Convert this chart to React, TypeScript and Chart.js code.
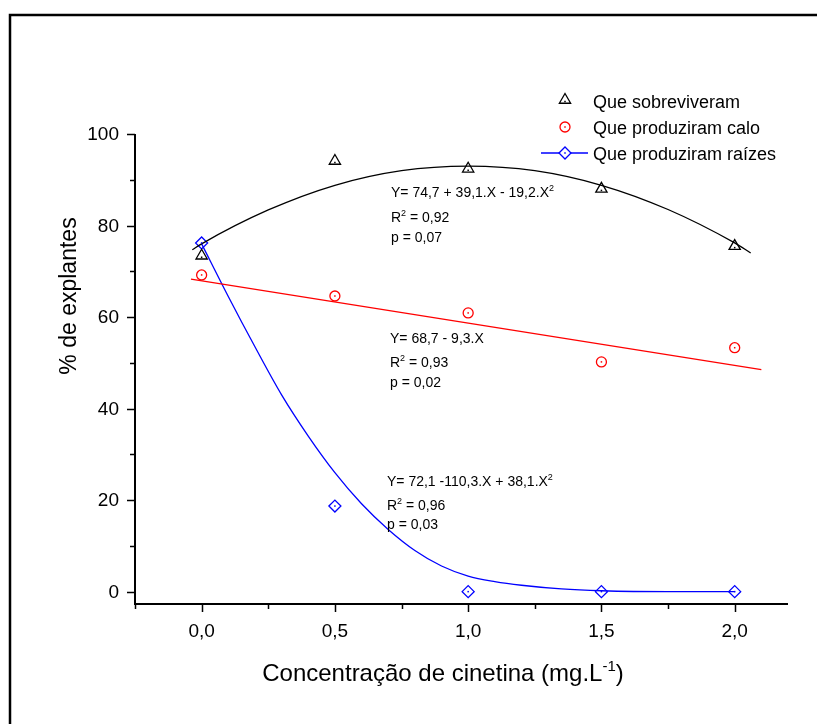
import React, { useEffect, useRef } from "react";
import { Chart, registerables } from "chart.js";

Chart.register(...registerables);

// ---------------- data ----------------
const concX = [0, 0.5, 1.0, 1.5, 2.0];
const sobreviveramY = [73.4, 94.1, 92.4, 88.0, 75.5];
const caloY = [69.2, 64.6, 60.9, 50.2, 53.3];
const raizesY = [76.2, 18.7, 0, 0, 0];

// fitted curves
const sobrevFitX = [-0.035, 0, 0.25, 0.5, 0.75, 1.0, 1.25, 1.5, 1.75, 2.0, 2.06];
const sobrevFitY = [74.7, 76.0, 83.4, 88.8, 92.0, 93.0, 92.0, 88.8, 83.5, 76.2, 74.0];
const caloFitX = [-0.04, 2.1];
const caloFitY = [68.3, 48.5];
const raizesFitX = [0, 0.1, 0.2, 0.3, 0.4, 0.5, 0.6, 0.7, 0.8, 0.9, 1.0, 1.1, 1.2, 1.35, 1.5, 1.75, 2.0];
const raizesFitY = [76.0, 64.5, 53.5, 43.0, 34.0, 26.0, 19.2, 13.6, 9.0, 5.6, 3.4, 2.2, 1.4, 0.6, 0.2, 0, 0];

const xMajorTicks = [0, 0.5, 1.0, 1.5, 2.0];
const xTickLabels = ["0,0", "0,5", "1,0", "1,5", "2,0"];
const xMinorTicks = [-0.25, 0.25, 0.75, 1.25, 1.75];
const yMajorTicks = [0, 20, 40, 60, 80, 100];
const yTickLabels = ["0", "20", "40", "60", "80", "100"];
const yMinorTicks = [10, 30, 50, 70, 90];

const seriesNames = ["Que sobreviveram", "Que produziram calo", "Que produziram raízes"];
const seriesColors = ["#000000", "#ff0000", "#0000ff"];

const eqSobrev = ["Y= 74,7 + 39,1.X - 19,2.X", "R", " = 0,92", "p = 0,07"];
const eqCalo = ["Y= 68,7 - 9,3.X", "R", " = 0,93", "p = 0,02"];
const eqRaizes = ["Y= 72,1 -110,3.X + 38,1.X", "R", " = 0,96", "p = 0,03"];

const xTitle = "Concentração de cinetina (mg.L";
const xTitleSup = "-1";
const yTitle = "% de explantes";

const FONT = '"Liberation Sans", Arial, Helvetica, sans-serif';

type Part = { t: string; sup?: boolean };

function drawRich(ctx: CanvasRenderingContext2D, parts: Part[], x: number, y: number, size: number, align: "left" | "center") {
  const supSize = Math.round(size * 0.62);
  let total = 0;
  const widths: number[] = [];
  for (const p of parts) {
    ctx.font = `${p.sup ? supSize : size}px ${FONT}`;
    const w = ctx.measureText(p.t).width;
    widths.push(w);
    total += w;
  }
  let cx = align === "center" ? x - total / 2 : x;
  ctx.textAlign = "left";
  ctx.textBaseline = "alphabetic";
  parts.forEach((p, i) => {
    ctx.font = `${p.sup ? supSize : size}px ${FONT}`;
    ctx.fillText(p.t, cx, p.sup ? y - size * 0.42 : y);
    cx += widths[i];
  });
}

function drawMarker(ctx: CanvasRenderingContext2D, style: string, x: number, y: number, r: number, color: string) {
  ctx.save();
  ctx.strokeStyle = color;
  ctx.fillStyle = color;
  ctx.lineWidth = 1.3;
  ctx.beginPath();
  if (style === "triangle") {
    let a = 0;
    ctx.moveTo(x + Math.sin(a) * r, y - Math.cos(a) * r);
    a += (2 * Math.PI) / 3;
    ctx.lineTo(x + Math.sin(a) * r, y - Math.cos(a) * r);
    a += (2 * Math.PI) / 3;
    ctx.lineTo(x + Math.sin(a) * r, y - Math.cos(a) * r);
    ctx.closePath();
  } else if (style === "circle") {
    ctx.arc(x, y, r, 0, Math.PI * 2);
  } else {
    ctx.moveTo(x - r, y);
    ctx.lineTo(x, y - r);
    ctx.lineTo(x + r, y);
    ctx.lineTo(x, y + r);
    ctx.closePath();
  }
  ctx.stroke();
  ctx.fillRect(x - 0.75, y - 0.75 + (style === "triangle" ? 1.5 : 0), 1.5, 1.5);
  ctx.restore();
}

const markerStyles = ["triangle", "circle", "rectRot"];
const markerRadius = [6.5, 5, 6];

const overlayPlugin = {
  id: "overlay",
  afterDatasetsDraw(chart: any) {
    const ctx: CanvasRenderingContext2D = chart.ctx;
    // centre dots on markers
    for (let d = 3; d < 6; d++) {
      const meta = chart.getDatasetMeta(d);
      ctx.save();
      ctx.fillStyle = seriesColors[d - 3];
      meta.data.forEach((el: any) => {
        const dy = d === 3 ? 1.5 : 0;
        ctx.fillRect(el.x - 0.75, el.y - 0.75 + dy, 1.5, 1.5);
      });
      ctx.restore();
    }
  },
  afterDraw(chart: any) {
    const ctx: CanvasRenderingContext2D = chart.ctx;
    const xs = chart.scales.x;
    const ys = chart.scales.y;
    const { left, right, top, bottom } = chart.chartArea;
    ctx.save();
    // outer frame
    ctx.strokeStyle = "#000";
    ctx.lineWidth = 2.5;
    ctx.strokeRect(10, 15, 1000, 1000);

    // axes lines
    ctx.lineWidth = 2;
    ctx.beginPath();
    ctx.moveTo(left, top);
    ctx.lineTo(left, bottom);
    ctx.lineTo(right, bottom);
    ctx.stroke();

    // ticks
    ctx.lineWidth = 1.5;
    ctx.beginPath();
    yMajorTicks.forEach((v) => {
      const py = Math.round(ys.getPixelForValue(v)) + 0.5;
      ctx.moveTo(left, py);
      ctx.lineTo(left - 8, py);
    });
    yMinorTicks.forEach((v) => {
      const py = Math.round(ys.getPixelForValue(v)) + 0.5;
      ctx.moveTo(left, py);
      ctx.lineTo(left - 5, py);
    });
    xMajorTicks.forEach((v) => {
      const px = Math.round(xs.getPixelForValue(v)) + 0.5;
      ctx.moveTo(px, bottom);
      ctx.lineTo(px, bottom + 8);
    });
    xMinorTicks.forEach((v) => {
      const px = Math.round(xs.getPixelForValue(v)) + 0.5;
      ctx.moveTo(px, bottom);
      ctx.lineTo(px, bottom + 5);
    });
    ctx.stroke();

    // tick labels
    ctx.fillStyle = "#000";
    ctx.font = `19px ${FONT}`;
    ctx.textAlign = "right";
    ctx.textBaseline = "middle";
    yMajorTicks.forEach((v, i) => {
      ctx.fillText(yTickLabels[i], left - 16, ys.getPixelForValue(v) + 1);
    });
    ctx.textAlign = "center";
    ctx.textBaseline = "alphabetic";
    xMajorTicks.forEach((v, i) => {
      ctx.fillText(xTickLabels[i], xs.getPixelForValue(v), bottom + 33);
    });

    // axis titles
    drawRich(ctx, [{ t: xTitle }, { t: xTitleSup, sup: true }, { t: ")" }], 443, 681, 24, "center");
    ctx.save();
    ctx.translate(76, 296);
    ctx.rotate(-Math.PI / 2);
    ctx.font = `23px ${FONT}`;
    ctx.textAlign = "center";
    ctx.textBaseline = "alphabetic";
    ctx.fillText(yTitle, 0, 0);
    ctx.restore();

    // legend
    const legY = [100, 127, 153];
    ctx.strokeStyle = seriesColors[2];
    ctx.lineWidth = 1.3;
    ctx.beginPath();
    ctx.moveTo(541, legY[2]);
    ctx.lineTo(588, legY[2]);
    ctx.stroke();
    for (let i = 0; i < 3; i++) {
      if (i === 2) {
        ctx.fillStyle = "#fff";
        ctx.beginPath();
        ctx.moveTo(565 - 6, legY[i]);
        ctx.lineTo(565, legY[i] - 6);
        ctx.lineTo(565 + 6, legY[i]);
        ctx.lineTo(565, legY[i] + 6);
        ctx.fill();
      }
      drawMarker(ctx, markerStyles[i], 565, legY[i], markerRadius[i], seriesColors[i]);
    }
    ctx.fillStyle = "#000";
    ctx.font = `18px ${FONT}`;
    ctx.textAlign = "left";
    ctx.textBaseline = "alphabetic";
    const legBase = [108, 134, 160];
    seriesNames.forEach((n, i) => ctx.fillText(n, 593, legBase[i]));

    // equations
    const blocks = [
      { eq: eqSobrev, x: 391, b: [197, 222, 242], sq: true },
      { eq: eqCalo, x: 390, b: [343, 367, 387], sq: false },
      { eq: eqRaizes, x: 387, b: [486, 510, 529], sq: true },
    ];
    blocks.forEach((bk) => {
      const first: Part[] = [{ t: bk.eq[0] }];
      if (bk.sq) first.push({ t: "2", sup: true });
      drawRich(ctx, first, bk.x, bk.b[0], 14, "left");
      drawRich(ctx, [{ t: bk.eq[1] }, { t: "2", sup: true }, { t: bk.eq[2] }], bk.x, bk.b[1], 14, "left");
      drawRich(ctx, [{ t: bk.eq[3] }], bk.x, bk.b[2], 14, "left");
    });
    ctx.restore();
  },
};

function pts(xa: number[], ya: number[]) {
  return xa.map((x, i) => ({ x, y: ya[i] }));
}

export default function App() {
  const ref = useRef<HTMLCanvasElement | null>(null);
  useEffect(() => {
    if (!ref.current) return;
    const lineDs = (data: any, color: string) => ({
      type: "line" as const,
      data,
      borderColor: color,
      borderWidth: 1.3,
      pointRadius: 0,
      showLine: true,
      fill: false,
      cubicInterpolationMode: "monotone" as const,
    });
    const markDs = (data: any, i: number) => ({
      type: "scatter" as const,
      data,
      borderColor: seriesColors[i],
      backgroundColor: "rgba(0,0,0,0)",
      borderWidth: 1.3,
      pointStyle: markerStyles[i],
      pointRadius: markerRadius[i],
      showLine: false,
    });
    const chart = new Chart(ref.current, {
      type: "scatter",
      data: {
        datasets: [
          lineDs(pts(sobrevFitX, sobrevFitY), seriesColors[0]),
          lineDs(pts(caloFitX, caloFitY), seriesColors[1]),
          lineDs(pts(raizesFitX, raizesFitY), seriesColors[2]),
          markDs(pts(concX, sobreviveramY), 0),
          markDs(pts(concX, caloY), 1),
          markDs(pts(concX, raizesY), 2),
        ] as any,
      },
      options: {
        responsive: false,
        animation: false,
        events: [],
        layout: { padding: { left: 0, right: 29, top: 134, bottom: 0 } },
        plugins: { legend: { display: false }, tooltip: { enabled: false }, title: { display: false } },
        scales: {
          x: {
            type: "linear",
            min: -0.25,
            max: 2.2,
            grid: { display: false },
            border: { display: false },
            ticks: { display: false },
            afterFit: (s: any) => {
              s.height = 120;
            },
          },
          y: {
            type: "linear",
            min: -2.7,
            max: 100,
            grid: { display: false },
            border: { display: false },
            ticks: { display: false },
            afterFit: (s: any) => {
              s.width = 135;
            },
          },
        },
      },
      plugins: [overlayPlugin],
    });
    return () => chart.destroy();
  }, []);
  return (
    <div style={{ position: "absolute", left: 0, top: 0, width: 817, height: 724, background: "#fff" }}>
      <canvas ref={ref} width={817} height={724} style={{ display: "block", width: 817, height: 724 }} />
    </div>
  );
}
